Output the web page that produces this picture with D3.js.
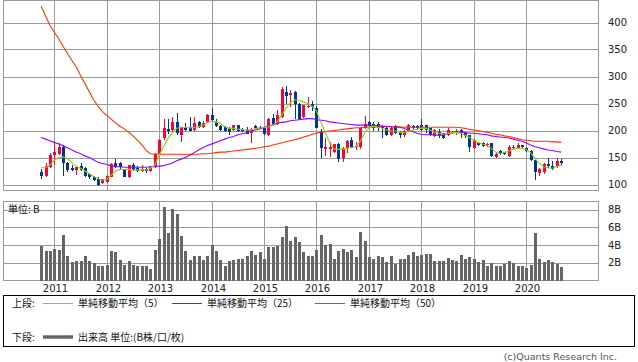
<!DOCTYPE html>
<html>
<head>
<meta charset="utf-8">
<script src="https://cdn.jsdelivr.net/npm/d3@7"></script>
<style>
body { margin: 0; background: #fff; }
text { font-family: "DejaVu Sans", sans-serif; }
.jp { font-family: "Noto Sans CJK JP", sans-serif; }
</style>
</head>
<body>
<div id="chart"></div>
<script>
// monthly candles, Oct 2010 - Sep 2020
var months = [
  "2010-10","2010-11","2010-12",
  "2011-01","2011-02","2011-03","2011-04","2011-05","2011-06","2011-07","2011-08","2011-09","2011-10","2011-11","2011-12",
  "2012-01","2012-02","2012-03","2012-04","2012-05","2012-06","2012-07","2012-08","2012-09","2012-10","2012-11","2012-12",
  "2013-01","2013-02","2013-03","2013-04","2013-05","2013-06","2013-07","2013-08","2013-09","2013-10","2013-11","2013-12",
  "2014-01","2014-02","2014-03","2014-04","2014-05","2014-06","2014-07","2014-08","2014-09","2014-10","2014-11","2014-12",
  "2015-01","2015-02","2015-03","2015-04","2015-05","2015-06","2015-07","2015-08","2015-09","2015-10","2015-11","2015-12",
  "2016-01","2016-02","2016-03","2016-04","2016-05","2016-06","2016-07","2016-08","2016-09","2016-10","2016-11","2016-12",
  "2017-01","2017-02","2017-03","2017-04","2017-05","2017-06","2017-07","2017-08","2017-09","2017-10","2017-11","2017-12",
  "2018-01","2018-02","2018-03","2018-04","2018-05","2018-06","2018-07","2018-08","2018-09","2018-10","2018-11","2018-12",
  "2019-01","2019-02","2019-03","2019-04","2019-05","2019-06","2019-07","2019-08","2019-09","2019-10","2019-11","2019-12",
  "2020-01","2020-02","2020-03","2020-04","2020-05","2020-06","2020-07","2020-08","2020-09"
];

var open = [
  123,116,133, 154,157,170,140,130,127,134,130,119,114,111,102,
  105,114,139,139,127,114,136,131,125,128,125,133,
  157,187,203,201,216,191,205,207,201,216,206,215,
  228,215,208,206,204,201,210,202,201,196,208,207,
  204,191,224,212,225,271,265,271,250,225,244,250,
  242,199,166,166,160,175,150,167,182,169,170,204,
  216,212,212,208,204,191,208,197,191,199,208,208,
  211,210,204,190,197,195,191,197,196,201,196,191,
  167,177,177,173,176,151,162,160,153,167,168,173,
  167,162,145,122,123,138,135,134,144
];
var high = [
  128,139,158, 177,177,174,142,137,133,139,133,122,116,113,111,
  117,139,147,142,129,137,139,135,136,131,135,159,
  185,222,222,225,233,207,213,225,225,217,218,230,
  241,222,211,208,207,211,211,204,206,204,210,209,
  205,224,231,238,281,282,275,273,251,248,262,254,
  245,202,186,179,175,176,169,182,188,178,206,226,
  217,216,215,210,206,206,210,199,201,212,210,210,
  221,211,205,203,203,196,204,199,202,203,198,192,
  184,178,179,177,177,158,164,161,174,174,176,174,
  169,163,146,131,140,150,143,149,147
];
var low = [
  111,114,131, 136,154,116,124,125,117,125,114,111,107,97,101,
  103,113,130,128,113,112,125,124,124,122,124,131,
  156,183,194,196,191,179,199,199,199,204,204,214,
  218,206,199,197,191,199,197,197,193,177,203,202,
  192,190,210,210,224,249,244,221,220,224,241,236,
  204,150,152,151,159,142,142,159,167,164,165,202,
  206,200,200,187,189,189,194,186,188,197,201,202,
  200,195,189,188,187,185,189,194,192,187,186,160,
  165,172,169,169,151,149,155,154,151,165,166,168,
  160,143,108,116,120,131,126,131,136
];
var close = [
  116,134,154, 160,170,139,127,127,133,127,116,114,109,99,110,
  116,138,133,133,114,136,127,125,128,125,133,157,
  183,204,200,215,195,206,201,200,214,206,214,228,
  219,208,201,199,197,210,199,199,194,202,205,204,
  193,221,211,228,276,264,269,250,222,247,246,244,
  205,167,169,169,175,148,167,181,170,171,204,212,
  208,204,204,204,191,204,196,191,199,210,204,204,
  201,201,191,201,190,187,201,196,199,196,189,169,
  182,174,171,175,153,157,158,156,170,170,173,170,
  162,146,123,128,138,134,128,144,139
];

// volume, unit B
var volume = [
  3.94,3.27,3.35, 3.58,3.46,5.14,2.72,2.04,2.16,2.16,2.79,2.16,1.97,1.68,1.60,
  1.79,3.35,3.16,2.27,1.79,2.16,1.79,1.60,1.60,1.68,1.34,3.39,
  4.69,8.30,5.40,8.04,7.49,5.03,3.35,2.35,2.79,2.72,2.35,2.79,
  4.02,3.27,2.27,1.68,2.16,2.35,2.46,2.46,2.79,3.35,2.90,3.16,
  2.46,3.83,3.72,3.91,4.95,6.15,4.47,4.88,4.32,3.16,2.79,2.79,
  3.46,5.14,4.02,4.13,2.46,3.35,3.54,3.16,3.46,2.64,5.51,4.47,
  2.64,2.46,2.79,2.61,2.05,2.79,1.90,2.46,2.46,2.90,3.24,2.79,
  2.90,3.02,3.02,2.16,2.16,2.16,2.57,2.27,2.16,2.90,2.46,2.64,
  2.46,2.05,2.35,1.60,1.98,1.68,1.60,1.90,2.16,1.98,1.60,1.68,
  1.45,1.79,5.40,2.46,2.05,2.35,2.05,1.90,1.49
];

var ma5 = [
  131,131,136, 145,150,151,148,140,134,130,125,120,115,111,108,
  110,117,125,128,128,128,127,127,127,127,130,136,
  154,170,185,196,204,206,206,205,205,207,210,215,
  217,216,213,207,204,204,202,202,201,201,203,205,
  206,207,210,216,228,241,251,257,256,253,250,245,
  236,216,196,178,166,165,166,167,168,170,180,195,
  205,208,206,204,201,199,199,197,196,199,201,202,
  204,204,201,197,195,193,195,196,196,195,191,187,
  182,178,175,172,167,160,157,159,162,165,167,167,
  165,159,148,139,133,131,130,133,136
];
var ma25 = [
  187,184,181, 178,175,172,168,164,160,157,153,150,146,141,139,
  137,135,133,133,132,132,132,132,132,132,133,133,
  134,135,137,140,144,147,150,154,159,164,168,172,
  175,178,181,184,187,189,192,194,196,199,201,203,
  206,208,210,213,215,216,218,219,220,221,222,222,
  220,219,218,216,215,214,213,212,211,210,210,210,
  210,209,209,208,208,207,206,206,204,201,198,195,
  193,192,192,192,191,192,194,196,197,197,196,195,
  195,194,193,192,190,189,188,187,186,184,182,180,
  177,173,170,168,166,164,163,161,160
];
var ma50 = [
  430,412,395, 382,370,356,343,330,318,302,287,272,257,245,235,
  228,221,214,208,203,197,190,182,174,163,157,156,
  156,156,156,156,156,156,156,156,156,156,157,157,
  158,159,160,160,161,162,163,164,165,166,167,168,
  170,171,173,175,177,179,181,183,185,188,190,193,
  195,197,198,199,200,201,202,203,204,205,205,206,
  206,206,207,207,207,207,207,207,206,206,206,206,
  206,206,206,206,206,206,206,206,206,205,204,202,
  201,200,198,197,195,193,192,190,189,187,185,183,
  182,181,180,180,180,180,179,179,178
];

var yearLabels = ["2011","2012","2013","2014","2015","2016","2017","2018","2019","2020"];
var priceTicks = [100, 150, 200, 250, 300, 350, 400];
var volumeTicks = [2, 4, 6, 8];

var upColor = "#ff0033";
var downColor = "#003399";
var gridColor = "#9a9a9a";
var ma5Color = "#99cc00";
var ma25Color = "#9900ff";
var ma50Color = "#ff3300";

var width = 638, height = 362;
var left = 3.5, right = 598.5;
var top1 = 0.5, bottom1 = 190.5;
var top2 = 201.5, bottom2 = 280.5;

var svg = d3.select("#chart").append("svg")
    .attr("width", width)
    .attr("height", height)
    .attr("xmlns", "http://www.w3.org/2000/svg");

svg.append("rect").attr("width", width).attr("height", height).attr("fill", "#fff");

var x = d3.scaleBand().domain(months).range([39, 563.4]);
function cx(m) { return Math.round(x(m) + x.bandwidth() / 2) + 0.5; }

var yP = d3.scaleLinear().domain([100, 400]).range([184.5, 22.5]);
var yV = d3.scaleLinear().domain([0, 8]).range([280.5, 209.5]);

var defs = svg.append("defs");
defs.append("clipPath").attr("id", "clipTop")
  .append("rect").attr("x", left).attr("y", top1).attr("width", right - left).attr("height", bottom1 - top1);

// ---- grids ----
function drawGrid(yScale, ticks, t, b) {
    var g = svg.append("g").attr("shape-rendering", "crispEdges");
    g.selectAll("line.h").data(ticks).enter().append("line")
        .attr("x1", left).attr("x2", right)
        .attr("y1", function(d) { return Math.round(yScale(d)) + 0.5; })
        .attr("y2", function(d) { return Math.round(yScale(d)) + 0.5; })
        .attr("stroke", gridColor);
    g.selectAll("line.v").data(yearLabels).enter().append("line")
        .attr("x1", function(d) { return cx(d + "-01"); })
        .attr("x2", function(d) { return cx(d + "-01"); })
        .attr("y1", t).attr("y2", b)
        .attr("stroke", gridColor);
    g.append("rect")
        .attr("x", left).attr("y", t)
        .attr("width", right - left).attr("height", b - t)
        .attr("fill", "none").attr("stroke", gridColor);
}
drawGrid(yP, priceTicks, top1, bottom1);
drawGrid(yV, volumeTicks, top2, bottom2);

// ---- candles ----
var candles = svg.append("g").attr("clip-path", "url(#clipTop)").attr("shape-rendering", "crispEdges");
var data = months.map(function(m, i) {
    return { m: m, o: open[i], h: high[i], l: low[i], c: close[i], v: volume[i] };
});
candles.selectAll("line").data(data).enter().append("line")
    .attr("x1", function(d) { return cx(d.m); })
    .attr("x2", function(d) { return cx(d.m); })
    .attr("y1", function(d) { return yP(d.h); })
    .attr("y2", function(d) { return yP(d.l); })
    .attr("stroke", function(d) { return d.c >= d.o ? upColor : downColor; });
candles.selectAll("rect").data(data).enter().append("rect")
    .attr("x", function(d) { return cx(d.m) - 1.5; })
    .attr("width", 3)
    .attr("y", function(d) { return yP(Math.max(d.o, d.c)); })
    .attr("height", function(d) { return Math.max(1, Math.abs(yP(d.o) - yP(d.c))); })
    .attr("fill", function(d) { return d.c >= d.o ? upColor : downColor; });

// ---- moving averages ----
function drawLine(values, color) {
    var line = d3.line()
        .x(function(d, i) { return x(months[i]) + x.bandwidth() / 2; })
        .y(function(d) { return yP(d); });
    svg.append("path")
        .attr("clip-path", "url(#clipTop)")
        .attr("d", line(values))
        .attr("fill", "none")
        .attr("stroke", color)
        .attr("stroke-width", 1.1);
}
drawLine(ma50, ma50Color);
drawLine(ma25, ma25Color);
drawLine(ma5, ma5Color);

// ---- volume ----
svg.append("g").attr("shape-rendering", "crispEdges")
  .selectAll("rect").data(data).enter().append("rect")
    .attr("x", function(d) { return cx(d.m) - 1.5; })
    .attr("width", 3)
    .attr("y", function(d) { return yV(d.v); })
    .attr("height", function(d) { return yV(0) - yV(d.v); })
    .attr("fill", "#666666");

// ---- axes ----
var axisP = svg.append("g").attr("transform", "translate(" + right + ",0)")
    .call(d3.axisRight(yP).tickValues(priceTicks).tickSize(0).tickPadding(9.5));
axisP.select(".domain").remove();
var axisV = svg.append("g").attr("transform", "translate(" + right + ",0)")
    .call(d3.axisRight(yV).tickValues(volumeTicks).tickSize(0).tickPadding(9.5)
        .tickFormat(function(d) { return d + "B"; }));
axisV.select(".domain").remove();
svg.selectAll(".tick text").attr("font-family", "DejaVu Sans").attr("font-size", 10).attr("fill", "#222");

svg.selectAll("text.year").data(yearLabels).enter().append("text")
    .attr("class", "year")
    .attr("x", function(d) { return cx(d + "-01") + 1; })
    .attr("y", 292)
    .attr("text-anchor", "middle")
    .attr("font-size", 10)
    .attr("fill", "#222")
    .text(function(d) { return d; });

svg.append("text").attr("class", "jp")
    .attr("x", 8).attr("y", 213)
    .attr("font-size", 10).attr("fill", "#111")
    .text("単位: B");

// ---- legend ----
svg.append("rect")
    .attr("x", 3.5).attr("y", 295.5).attr("width", 631).attr("height", 50.5)
    .attr("fill", "none").attr("stroke", "#000").attr("shape-rendering", "crispEdges");

var legendTop = [
    { x: 43, label: "単純移動平均（5）", color: ma5Color },
    { x: 172, label: "単純移動平均（25）", color: ma25Color },
    { x: 315, label: "単純移動平均（50）", color: ma50Color }
];
svg.append("text").attr("class", "jp").attr("x", 12).attr("y", 307)
    .attr("font-size", 10).attr("fill", "#111").text("上段:");
legendTop.forEach(function(d) {
    svg.append("line")
        .attr("x1", d.x).attr("x2", d.x + 30)
        .attr("y1", 303.5).attr("y2", 303.5)
        .attr("stroke", d.color).attr("shape-rendering", "crispEdges");
    svg.append("text").attr("class", "jp")
        .attr("x", d.x + 35).attr("y", 307)
        .attr("font-size", 10).attr("fill", "#111")
        .text(d.label);
});
svg.append("text").attr("class", "jp").attr("x", 12).attr("y", 341)
    .attr("font-size", 10).attr("fill", "#111").text("下段:");
svg.append("line")
    .attr("x1", 43).attr("x2", 73)
    .attr("y1", 337).attr("y2", 337)
    .attr("stroke", "#666").attr("stroke-width", 3.5);
svg.append("text").attr("class", "jp")
    .attr("x", 78).attr("y", 341)
    .attr("font-size", 10).attr("fill", "#111")
    .text("出来高 単位:(B株/口/枚)");

svg.append("text")
    .attr("x", 617).attr("y", 360)
    .attr("text-anchor", "end")
    .attr("font-size", 9.5).attr("fill", "#555")
    .text("(c)Quants Research Inc.");
</script>
</body>
</html>
